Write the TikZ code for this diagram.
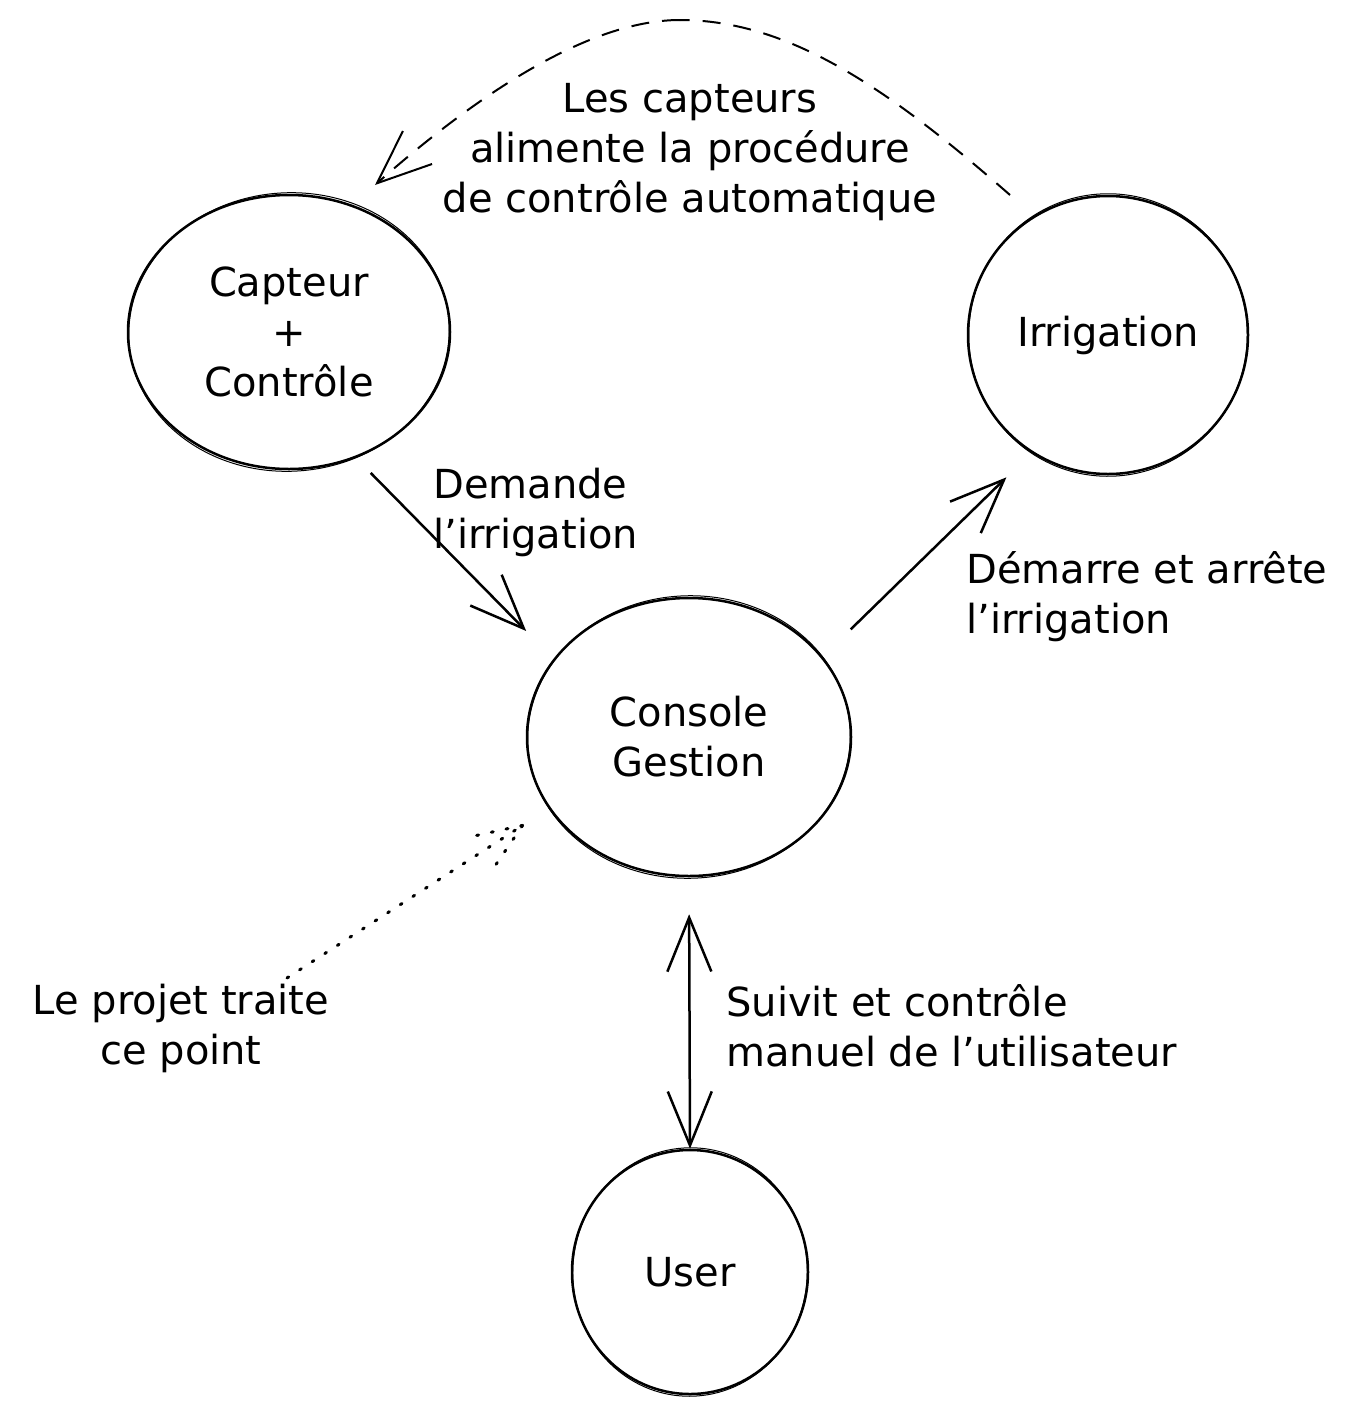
\documentclass[tikz,border=0pt]{standalone}
\usepackage{fontspec}
\setmainfont{DejaVu Sans}
\usetikzlibrary{arrows.meta,shapes.geometric,calc}

\begin{document}
\begin{tikzpicture}[x=1pt,y=-1pt,line width=2.5pt,
    bubble/.style={ellipse,draw,inner sep=0pt,align=center,font=\fontsize{40}{50}\selectfont},
    lbl/.style={inner sep=0pt,font=\fontsize{40}{50}\selectfont},
    barb/.tip={Straight Barb[length=54pt,width=44pt]},
    flow/.style={-barb},
    both/.style={barb-barb},
    loopback/.style={line width=2pt,dash pattern=on 18pt off 13pt},
    pointer/.style={line cap=round,line width=3pt,dash pattern=on 2pt off 13pt}]

 % Page size, as in the sketch.
 \fill[white] (0,0) rectangle (1366,1414);
 \useasboundingbox (0,0) rectangle (1366,1414);

 % Bubbles.
 \node[bubble,minimum width=322pt,minimum height=274pt] (cap) at (289,332) {Capteur\\+\\Contrôle};
 \node[bubble,minimum width=280pt,minimum height=278pt] (irr) at (1108,335) {Irrigation};
 \node[bubble,minimum width=324pt,minimum height=278pt] (con) at (689,737) {Console\\Gestion};
 \node[bubble,minimum width=236pt,minimum height=244pt] (usr) at (690,1272) {User};

 % Second pencil stroke on every bubble.
 \foreach \bb/\a in {cap/3,irr/-2,con/2,usr/-3}
   \draw[line width=1pt] let \p1=($(\bb.east)-(\bb.center)$), \p2=($(\bb.north)-(\bb.center)$) in
     (\bb.center) ellipse [x radius=\x1-2pt, y radius=\y2+1pt, rotate=\a];

 % Labels.
 \node[lbl,align=center] (loop) at (690,152) {Les capteurs\\alimente la procédure\\de contrôle automatique};
 \node[lbl,align=left,anchor=west] (ask) at (432,512) {Demande\\l'irrigation};
 \node[lbl,align=left,anchor=west] (run) at (965,597) {Démarre et arrête\\l'irrigation};
 \node[lbl,align=left,anchor=west] (man) at (725,1026) {Suivit et contrôle\\manuel de l'utilisateur};
 \node[lbl,align=center] (proj) at (181,1028) {Le projet traite\\ce point};

 % Connectors.
 \draw[flow,shorten <=21pt,shorten >=39pt] (cap.-62) -- (con.150);
 \draw[flow,shorten <=39pt,shorten >=35pt] (con.31) -- (irr.-123);
 \draw[both,shorten <=37pt] (con.south) -- (usr.north);

 % Feedback from the irrigation to the sensors.
 \coordinate (fbs) at (1010,195);
 \coordinate (fbtop) at (680,20);
 \coordinate (fbe) at (375,185);
 \draw[loopback] (fbs) .. controls (890,90) and (790,20) .. (fbtop);
 \draw[loopback,flow] (fbtop) .. controls (580,20) and (460,110) .. (fbe);

 % Dotted pointer to the console.
 \coordinate (np) at (287,978);
 \coordinate (ntip) at ($(con.207)!31pt!(np)$);
 \draw[pointer] (np) -- (ntip);
 \draw[pointer] (ntip) -- ++(-55,12);
 \draw[pointer] (ntip) -- ++(-32,47);

\end{tikzpicture}
\end{document}
